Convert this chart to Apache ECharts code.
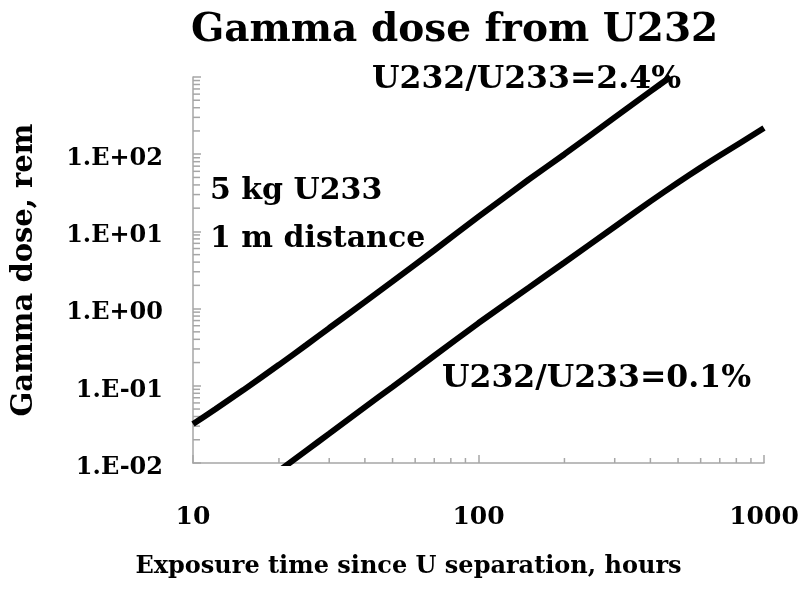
<!DOCTYPE html>
<html>
<head>
<meta charset="utf-8">
<script src="https://cdn.jsdelivr.net/npm/echarts@6/dist/echarts.min.js"></script>
<style>
  html, body { margin: 0; padding: 0; background: #fff; }
  #chart { width: 804px; height: 590px; }
</style>
</head>
<body>
<div id="chart"></div>
<script>
// hours since separation / dose in rem
var hiHours = [10, 12, 15, 20, 25, 30, 40, 50, 70, 100, 150, 200, 300, 400, 470];
var hiDose  = [0.032, 0.05, 0.088, 0.187, 0.34, 0.56, 1.22, 2.25, 5.7, 15.5, 47, 100, 300, 650, 1000];
var loHours = [20, 25, 30, 40, 50, 70, 100, 150, 200, 300, 400, 500, 600, 700, 1000];
var loDose  = [0.0079, 0.0146, 0.024, 0.053, 0.097, 0.245, 0.65, 1.87, 3.96, 11.5, 24.5, 43, 67, 96, 218];
var xTickValues = [10, 100, 1000];
var notes = ['U232/U233=2.4%', '5 kg U233', '1 m distance', 'U232/U233=0.1%'];

var FONT = 'DejaVu Serif';
var GRAY = '#a6a6a6';

function pairs(xs, ys) {
    return xs.map(function (x, i) { return [x, ys[i]]; });
}

function sciLabel(v) {
    var e = Math.round(Math.log(v) / Math.LN10);
    if (e >= 3) return '';
    var a = Math.abs(e);
    return '1.E' + (e < 0 ? '-' : '+') + (a < 10 ? '0' + a : a);
}

var myChart = echarts.init(document.getElementById('chart'));

var option = {
    backgroundColor: '#fff',
    animation: false,
    title: {
        text: 'Gamma dose from U232',
        left: 186,
        top: 6,
        textStyle: { fontFamily: FONT, fontWeight: 'bold', fontSize: 39, color: '#000' }
    },
    grid: { left: 193, right: 40, top: 77, bottom: 127 },
    xAxis: {
        type: 'log',
        logBase: 10,
        min: 10,
        max: 1000,
        name: 'Exposure time since U separation, hours',
        nameLocation: 'middle',
        nameGap: 92,
        nameTextStyle: {
            fontFamily: FONT, fontWeight: 'bold', fontSize: 24, color: '#000',
            padding: [0, 140, 0, 0]
        },
        axisLine: { lineStyle: { color: GRAY, width: 1.5 } },
        axisTick: { inside: true, length: 8, lineStyle: { color: GRAY, width: 1.5 } },
        splitLine: { show: false },
        axisLabel: {
            margin: 42,
            fontFamily: FONT, fontWeight: 'bold', fontSize: 25, color: '#000',
            formatter: function (v) {
                var best = xTickValues.reduce(function (p, c) {
                    return Math.abs(c - v) < Math.abs(p - v) ? c : p;
                });
                return String(best);
            }
        }
    },
    yAxis: {
        type: 'log',
        logBase: 10,
        min: 0.01,
        max: 1000,
        name: 'Gamma dose, rem',
        nameLocation: 'middle',
        nameGap: 154,
        nameTextStyle: { fontFamily: FONT, fontWeight: 'bold', fontSize: 29, color: '#000' },
        axisLine: { show: true, lineStyle: { color: GRAY, width: 1.5 } },
        axisTick: { show: true, inside: true, length: 8, lineStyle: { color: GRAY, width: 1.5 } },
        splitLine: { show: false },
        axisLabel: {
            margin: 30,
            verticalAlign: 'top',
            lineHeight: 9,
            fontFamily: FONT, fontWeight: 'bold', fontSize: 24, color: '#000',
            formatter: sciLabel
        }
    },
    series: [
        {
            name: 'U232/U233=2.4%',
            type: 'line',
            data: pairs(hiHours, hiDose),
            showSymbol: false,
            smooth: 0.2,
            clip: true,
            lineStyle: { color: '#000', width: 6 }
        },
        {
            name: 'U232/U233=0.1%',
            type: 'line',
            data: pairs(loHours, loDose),
            showSymbol: false,
            smooth: 0.2,
            clip: true,
            lineStyle: { color: '#000', width: 6 }
        }
    ]
};
myChart.setOption(option);

// minor ticks (2..9 in each decade) and the text notes
var els = [];
var x0 = myChart.convertToPixel({ xAxisIndex: 0 }, 10);
var y0 = myChart.convertToPixel({ yAxisIndex: 0 }, 0.01);
[10, 100].forEach(function (d) {
    for (var k = 2; k <= 9; k++) {
        var px = myChart.convertToPixel({ xAxisIndex: 0 }, k * d);
        els.push({ type: 'line', silent: true,
            shape: { x1: px, y1: y0, x2: px, y2: y0 - 5 },
            style: { stroke: GRAY, lineWidth: 1.5 } });
    }
});
[0.01, 0.1, 1, 10, 100].forEach(function (d) {
    for (var k = 2; k <= 9; k++) {
        var py = myChart.convertToPixel({ yAxisIndex: 0 }, k * d);
        els.push({ type: 'line', silent: true,
            shape: { x1: x0, y1: py, x2: x0 + 7, y2: py },
            style: { stroke: GRAY, lineWidth: 1.5 } });
    }
});

var notePos = [[372, 80, 31.5], [210, 191, 30], [210, 239, 30], [442, 379, 31.5]];
notes.forEach(function (t, i) {
    els.push({ type: 'text', silent: true, x: notePos[i][0], y: notePos[i][1],
        style: { text: t, fill: '#000', font: 'bold ' + notePos[i][2] + 'px "' + FONT + '"',
            textAlign: 'left', textVerticalAlign: 'middle' } });
});
myChart.setOption({ graphic: { elements: els } });
</script>
</body>
</html>
